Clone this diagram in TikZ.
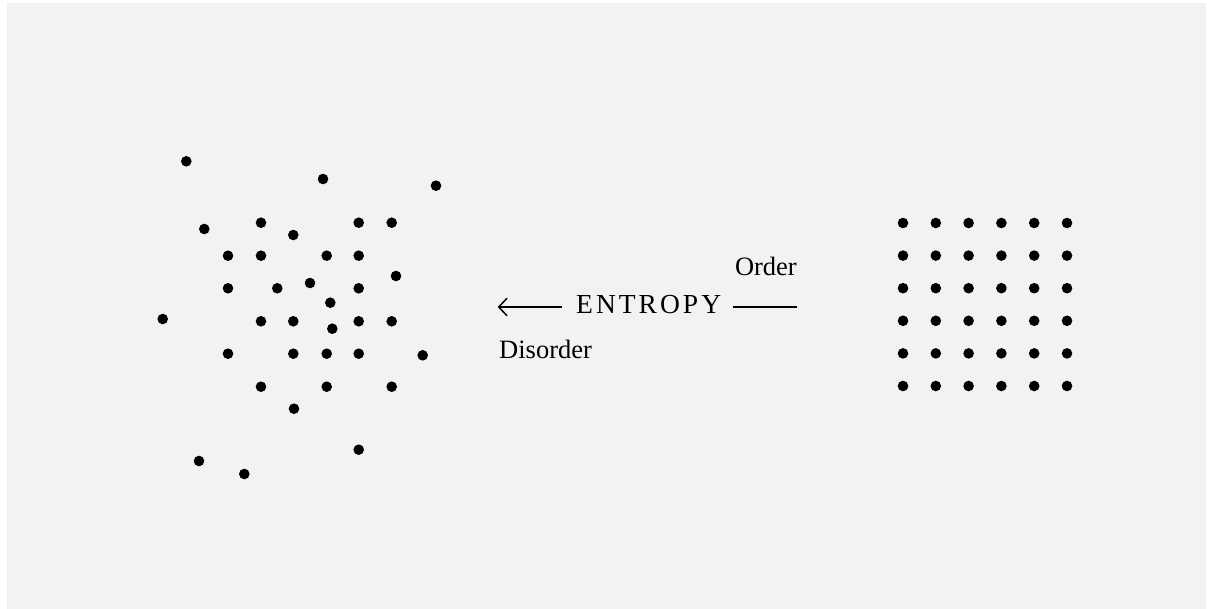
\documentclass[tikz,border=0pt]{standalone}
\usepackage{fontspec}
\setmainfont{Liberation Serif}
\newfontfamily\spacedfont[LetterSpace=11]{Liberation Serif}
\usetikzlibrary{arrows.meta}
\definecolor{bg}{HTML}{F2F2F2}
\tikzset{
  dot/.style={fill=black},
  lbl/.style={inner sep=0pt, font=\fontsize{26.5}{30}\selectfont},
  line/.style={line width=1.4pt, black}
}
\begin{document}
\begin{tikzpicture}[x=1pt,y=-1pt]
\useasboundingbox (0,0) rectangle (1207,609);
\fill[white] (0,0) rectangle (1207,609);
\fill[bg] (7,3) rectangle (1206,609);
% disordered dots
\foreach \x/\y in {186.3/161.3, 323/179, 436/185.7, 204.3/229, 261/222.7, 293.3/235, 358.7/222.7, 391.7/222.7,
  228/255.7, 261/255.7, 326.7/255.7, 358.7/255.7, 396/276, 228/288.3, 277.3/288.3, 310/283, 358.7/288.3,
  330.3/302.7, 162.7/319, 261/321.3, 293.3/321.3, 332.3/328.7, 358.7/321.3, 391.7/321.3,
  228/353.7, 293.3/353.7, 326.7/353.7, 358.7/353.7, 422.7/355.3, 261/386.7, 326.7/386.7, 391.7/386.7,
  294/408.7, 358.7/449.7, 199/461, 244.3/474}
  \fill[dot] (\x,\y) circle (5.3);
% ordered grid
\foreach \x in {903, 935.8, 968.6, 1001.4, 1034.2, 1067}
  \foreach \y in {223, 255.6, 288.2, 320.8, 353.4, 386}
    \fill[dot] (\x,\y) circle (5.3);
% labels
\node[lbl, anchor=base east] (order) at (797,276) {Order};
\node[lbl, anchor=base west] (disorder) at (499,359) {Disorder};
\node[inner sep=0pt, anchor=base west, font=\fontsize{27.5}{30}\spacedfont] (entropy) at (576,314) {ENTROPY};
\coordinate (atip) at (498,307);
\coordinate (aend) at (562,307);
\coordinate (lstart) at (733,307);
\coordinate (lend) at (797,307);
\draw[line, -{Straight Barb[length=8pt,width=17pt,line width=1.5pt,round]}] (aend) -- (atip);
\draw[line] (lstart) -- (lend);
\end{tikzpicture}
\end{document}
